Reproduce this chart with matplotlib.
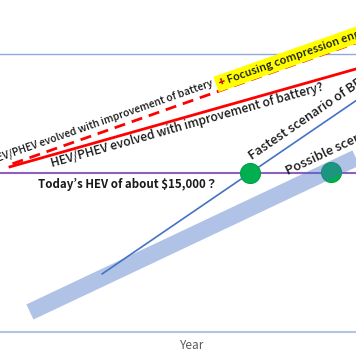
import numpy as np
import matplotlib.pyplot as plt

plt.rcParams['font.family'] = ['Noto Sans CJK JP', 'DejaVu Sans']

# chart units: x = time (0..100), y = cost (0 at the axis, 100 at today's BEV)
bev_today = 100
hev_today = 57.2

hev_x = [2.8, 100]
hev_y = [59.4, 94.6]
engine_x = [3.5, 100]
engine_y = [60.5, 104.0]

fast_x = [28.7, 100]
fast_y = [20.9, 83.2]
possible_x = [8.4, 100]
possible_y = [7.2, 62.6]

meet_x = [70.2, 93.0]
meet_y = [57.2, 57.6]


def on_line(xs, ys, at):
    slope = (ys[1] - ys[0]) / (xs[1] - xs[0])
    return ys[0] + (at - xs[0]) * slope


def line_label(xs, ys, at, dy, text, **kw):
    ang = np.degrees(np.arctan2(ys[1] - ys[0], xs[1] - xs[0]))
    return ax.text(at, on_line(xs, ys, at) + dy, text, rotation=ang,
                   rotation_mode='anchor', transform_rotates_text=True,
                   ha='left', va='baseline', clip_on=False, **kw)


fig = plt.figure(figsize=(3.56, 3.64), dpi=100)
ax = fig.add_axes([0, 32/364, 1, 332/364])
ax.set_xlim(0, 100)
ax.set_ylim(0, 119.4)
for s in ['top', 'left', 'right']:
    ax.spines[s].set_visible(False)
ax.spines['bottom'].set_color('#B4C5E2')
ax.spines['bottom'].set_linewidth(1.5)
ax.set_xticks([])
ax.set_yticks([])
ax.set_xlabel('Year', color='#595959', fontsize=8.5)
ax.xaxis.set_label_coords(0.54, -0.042)
ax.xaxis.label.set_va('center')

ax.axhline(bev_today, color='#8FAADC', lw=1)
ax.axhline(hev_today, color='#8E5FBF', lw=1.5)
ax.plot(hev_x, hev_y, color='#FF0000', lw=2)
ax.plot(engine_x, engine_y, color='#FF0000', lw=2, ls=(0, (4, 2.5)))
ax.plot(fast_x, fast_y, color='#4472C4', lw=1.2)
ax.scatter(meet_x, meet_y, s=207, color='#00B050', edgecolor='#00A048',
           lw=0.8, zorder=3)
ax.plot(possible_x, possible_y, color='#4472C4', alpha=0.42, lw=12,
        solid_capstyle='butt', zorder=4)

txt = '#1A1A1A'
wt = 'medium'
line_label(engine_x, engine_y, -2.4, 2.6,
           'HEV/PHEV evolved with improvement of battery',
           fontsize=7.4, color=txt, fontweight=wt)
line_label(engine_x, engine_y, 61.8, 1.6, '+ Focusing compression engine',
           fontsize=8.0, color=txt, zorder=5, fontweight=wt,
           bbox=dict(facecolor='#FFFF00', edgecolor='none', pad=2.2))
line_label(engine_x, engine_y, 61.8, 1.6, '+', fontsize=8.0,
           color='#FF0000', zorder=6, fontweight=wt)
line_label(hev_x, hev_y, 14.6, -4.3,
           'HEV/PHEV evolved with improvement of battery?',
           fontsize=8.7, color=txt, fontweight=wt)
ax.text(10.7, 52.9, 'Today\u2019s HEV of about $15,000\uff1f',
        fontsize=8.3, fontweight='bold', color=txt, va='center')
line_label(fast_x, fast_y, 70.8, 4.0, 'Fastest scenario of BEV',
           fontsize=9.3, color=txt, zorder=6, fontweight=wt)
line_label(possible_x, possible_y, 80.9, 5.4, 'Possible scenario of BEV',
           fontsize=9.3, color=txt, zorder=6, fontweight=wt)

fig.savefig('out.png', dpi=100)
